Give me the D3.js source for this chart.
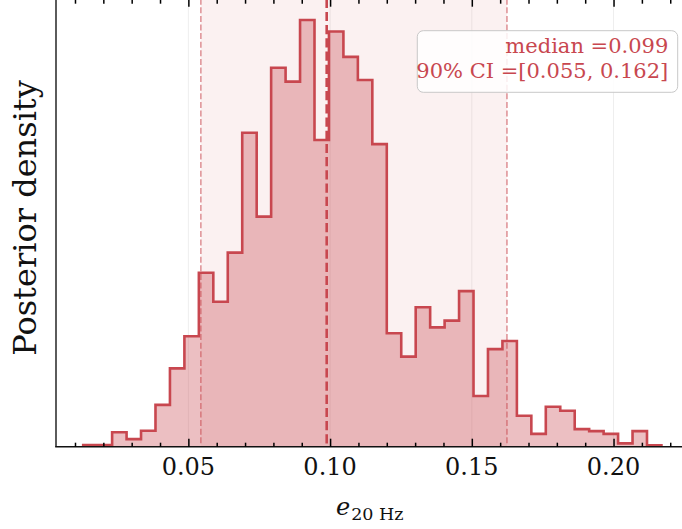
<!DOCTYPE html>
<html>
<head>
<meta charset="utf-8">
<script src="https://cdn.jsdelivr.net/npm/d3@7"></script>
<style>
  html, body { margin: 0; padding: 0; background: #fff; }
  svg { display: block; }
  text { font-family: "DejaVu Serif", serif; }
</style>
</head>
<body>
<div id="chart"></div>
<script>
(function(d3) {
'use strict';

// histogram of e_20Hz posterior samples (density per bin)
var binStart = 0.0129;
var binWidth = 0.0051;
var density = [
  0.06, 0.06, 0.52, 0.27, 0.57, 1.50, 2.81, 3.96, 6.24, 5.20,
  6.96, 11.26, 8.25, 13.59, 13.09, 15.30, 11.00, 14.89, 13.98, 13.15,
  10.85, 4.07, 3.23, 5.00, 4.28, 4.52, 5.58, 1.82, 3.50, 3.79,
  1.11, 0.46, 1.43, 1.29, 0.63, 0.56, 0.46, 0.12, 0.56, 0.05
];

var median = 0.0988;
var ciLow = 0.0544;
var ciHigh = 0.1624;

var majorTicks = [0.05, 0.10, 0.15, 0.20];
var tickLabels = ['0.05', '0.10', '0.15', '0.20'];
var minorTicks = [0.01, 0.02, 0.03, 0.04, 0.06, 0.07, 0.08, 0.09, 0.11, 0.12,
  0.13, 0.14, 0.16, 0.17, 0.18, 0.19, 0.21, 0.22];

var legendLines = ['median =0.099', '90% CI =[0.055, 0.162]'];

var red = '#c8474f';
var width = 682;
var height = 529;
var plot = {left: 56, right: 681, top: -1.3, bottom: 446.7};

var x = d3.scaleLinear()
  .domain([0.0033, 0.2238])
  .range([plot.left, plot.right]);

var y = d3.scaleLinear()
  .domain([0, d3.max(density) * 1.05])
  .range([plot.bottom, plot.top]);

var svg = d3.select('#chart')
  .append('svg')
  .attr('width', width)
  .attr('height', height);

// faint grid at the major ticks
svg.selectAll('line.grid')
  .data(majorTicks)
  .enter()
  .append('line')
  .attr('class', 'grid')
  .attr('x1', function(d) { return x(d); })
  .attr('x2', function(d) { return x(d); })
  .attr('y1', plot.top)
  .attr('y2', plot.bottom)
  .attr('stroke', '#000')
  .attr('stroke-opacity', 0.07)
  .attr('stroke-width', 1);

// credible interval band
svg.append('rect')
  .attr('x', x(ciLow))
  .attr('y', plot.top)
  .attr('width', x(ciHigh) - x(ciLow))
  .attr('height', plot.bottom - plot.top)
  .attr('fill', red)
  .attr('fill-opacity', 0.08);

// step outline of the histogram
var pts = [[binStart, 0]];
density.forEach(function(v, i) {
  pts.push([binStart + i * binWidth, v]);
  pts.push([binStart + (i + 1) * binWidth, v]);
});
pts.push([binStart + density.length * binWidth, 0]);

var line = d3.line()
  .x(function(d) { return x(d[0]); })
  .y(function(d) { return y(d[1]); });

svg.append('path')
  .attr('d', line(pts) + 'Z')
  .attr('fill', red)
  .attr('fill-opacity', 0.35)
  .attr('stroke', 'none');

svg.append('path')
  .attr('d', line(pts))
  .attr('fill', 'none')
  .attr('stroke', red)
  .attr('stroke-width', 2.6)
  .attr('stroke-linejoin', 'miter');

// CI bounds
svg.selectAll('line.ci')
  .data([ciLow, ciHigh])
  .enter()
  .append('line')
  .attr('class', 'ci')
  .attr('x1', function(d) { return x(d); })
  .attr('x2', function(d) { return x(d); })
  .attr('y1', plot.top)
  .attr('y2', plot.bottom)
  .attr('stroke', red)
  .attr('stroke-opacity', 0.55)
  .attr('stroke-width', 1.6)
  .attr('stroke-dasharray', '6,2.6');

// median
svg.append('line')
  .attr('x1', x(median))
  .attr('x2', x(median))
  .attr('y1', plot.top)
  .attr('y2', plot.bottom)
  .attr('stroke', red)
  .attr('stroke-width', 2.6)
  .attr('stroke-dasharray', '9.2,4');

// spines
svg.append('line')
  .attr('x1', plot.left).attr('x2', plot.left)
  .attr('y1', plot.top).attr('y2', plot.bottom)
  .attr('stroke', '#333').attr('stroke-width', 1.6);
svg.append('line')
  .attr('x1', plot.left - 0.8).attr('x2', width)
  .attr('y1', plot.bottom).attr('y2', plot.bottom)
  .attr('stroke', '#111').attr('stroke-width', 1.6);

// inward ticks on bottom and top
var xAxisB = d3.axisBottom(x).tickValues(majorTicks).tickSize(-8).tickFormat('');
var xAxisBm = d3.axisBottom(x).tickValues(minorTicks).tickSize(-4).tickFormat('');
var xAxisT = d3.axisTop(x).tickValues(majorTicks).tickSize(-8).tickFormat('');
var xAxisTm = d3.axisTop(x).tickValues(minorTicks).tickSize(-5).tickFormat('');

[[xAxisB, plot.bottom], [xAxisBm, plot.bottom], [xAxisT, plot.top], [xAxisTm, plot.top]]
  .forEach(function(a) {
    var g = svg.append('g')
      .attr('transform', 'translate(0,' + a[1] + ')')
      .call(a[0]);
    g.select('.domain').remove();
    g.selectAll('.tick line').attr('stroke', '#000').attr('stroke-width', 1.5);
  });

// tick labels
svg.selectAll('text.tick')
  .data(majorTicks)
  .enter()
  .append('text')
  .attr('class', 'tick')
  .attr('x', function(d) { return x(d); })
  .attr('y', 475)
  .attr('text-anchor', 'middle')
  .attr('font-size', 24)
  .attr('fill', '#111')
  .text(function(d, i) { return tickLabels[i]; });

// axis labels
svg.append('text')
  .attr('transform', 'translate(36,218) rotate(-90)')
  .attr('text-anchor', 'middle')
  .attr('font-size', 32)
  .attr('fill', '#111')
  .text('Posterior density');

var xl = svg.append('text')
  .attr('x', 336)
  .attr('y', 515)
  .attr('fill', '#111');
xl.append('tspan')
  .attr('font-size', 24)
  .attr('font-style', 'italic')
  .text('e');
xl.append('tspan')
  .attr('font-size', 17.5)
  .attr('dy', 4.5)
  .attr('dx', 1)
  .text('20 Hz');

// legend box
svg.append('rect')
  .attr('x', 417.3)
  .attr('y', 30.7)
  .attr('width', 260.4)
  .attr('height', 61.6)
  .attr('rx', 6)
  .attr('fill', '#fff')
  .attr('fill-opacity', 0.85)
  .attr('stroke', '#c8c8c8')
  .attr('stroke-width', 1);

svg.selectAll('text.leg')
  .data(legendLines)
  .enter()
  .append('text')
  .attr('class', 'leg')
  .attr('x', 668.3)
  .attr('y', function(d, i) { return 52.7 + i * 25.6; })
  .attr('text-anchor', 'end')
  .attr('font-size', 21)
  .attr('fill', red)
  .text(function(d) { return d; });

})(window.d3);
</script>
</body>
</html>
